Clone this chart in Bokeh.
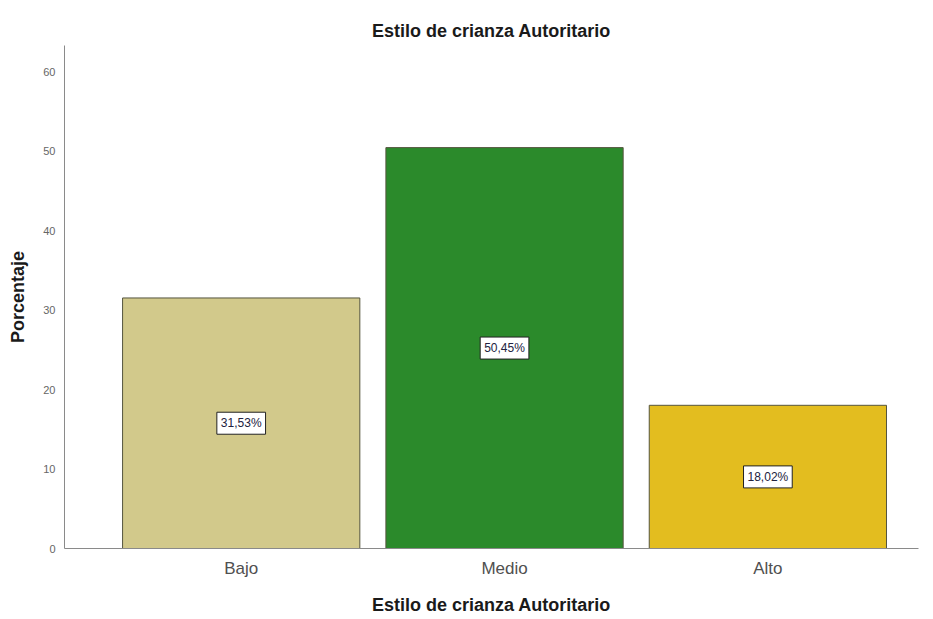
from bokeh.plotting import figure
from bokeh.models import ColumnDataSource, FixedTicker, Range1d
from bokeh.core.properties import value
from bokeh.embed import file_html
from bokeh.resources import INLINE

categories = ["Bajo", "Medio", "Alto"]
values = [31.53, 50.45, 18.02]
labels = ["31,53%", "50,45%", "18,02%"]
colors = ["#D2C98B", "#2B8A2B", "#E3BD1F"]
y_ticks = [0, 10, 20, 30, 40, 50, 60]

xs = [i + 1 for i in range(len(categories))]
src = ColumnDataSource(dict(
    x=xs, top=values, mid=[v / 2 for v in values], lab=labels, color=colors,
))

p = figure(width=933, height=619, output_backend="svg", toolbar_location=None,
           x_range=Range1d(0.329, 3.572), y_range=Range1d(0, 63.3),
           min_border_left=64, min_border_right=15, min_border_top=45, min_border_bottom=71,
           title="Estilo de crianza Autoritario")
p.title.align = "center"
p.title.text_font = "Liberation Sans"
p.title.text_font_size = "18px"
p.title.text_font_style = "bold"
p.title.text_color = "#1a1a1a"
p.title.standoff = 9

p.vbar(x="x", top="top", bottom=0, width=0.901, fill_color="color",
       line_color="#55553f", line_width=1, source=src)

p.text(x="x", y="mid", text="lab", source=src,
       text_align="center", text_baseline="middle",
       text_font=value("Liberation Sans"), text_font_size="12px",
       text_color="#222240",
       background_fill_color="white", border_line_color="#222222",
       border_line_width=1, padding=4)

p.xgrid.visible = False
p.ygrid.visible = False
p.outline_line_color = None

p.xaxis.ticker = FixedTicker(ticks=xs)
p.xaxis.major_label_overrides = {x: c for x, c in zip(xs, categories)}
p.xaxis.major_tick_line_color = None
p.xaxis.minor_tick_line_color = None
p.xaxis.axis_line_color = "#8a8a8a"
p.xaxis.major_label_text_font = "Liberation Sans"
p.xaxis.major_label_text_font_size = "17px"
p.xaxis.major_label_text_color = "#505050"
p.xaxis.major_label_standoff = 4
p.xaxis.axis_label = "Estilo de crianza Autoritario"
p.xaxis.axis_label_text_font = "Liberation Sans"
p.xaxis.axis_label_text_font_size = "18px"
p.xaxis.axis_label_text_font_style = "bold"
p.xaxis.axis_label_text_color = "#1a1a1a"
p.xaxis.axis_label_standoff = 14

p.yaxis.ticker = FixedTicker(ticks=y_ticks)
p.yaxis.major_tick_line_color = None
p.yaxis.minor_tick_line_color = None
p.yaxis.axis_line_color = "#8a8a8a"
p.yaxis.major_label_text_font = "Liberation Sans"
p.yaxis.major_label_text_font_size = "11px"
p.yaxis.major_label_text_color = "#666666"
p.yaxis.major_label_standoff = 3
p.yaxis.axis_label = "Porcentaje"
p.yaxis.axis_label_text_font = "Liberation Sans"
p.yaxis.axis_label_text_font_size = "18px"
p.yaxis.axis_label_text_font_style = "bold"
p.yaxis.axis_label_text_color = "#1a1a1a"
p.yaxis.axis_label_standoff = 12

open("out.html", "w").write(file_html(p, INLINE))
